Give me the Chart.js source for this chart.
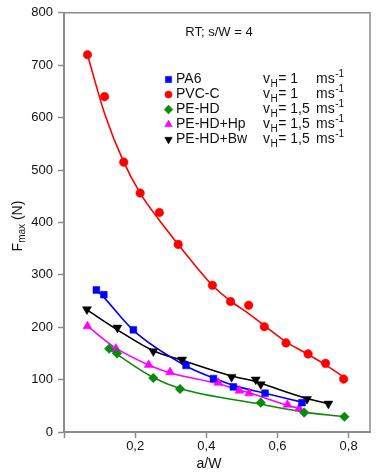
<!DOCTYPE html>
<html><head><meta charset="utf-8">
<script src="https://cdn.jsdelivr.net/npm/chart.js@4.4.1/dist/chart.umd.min.js"></script>
<style>html,body{margin:0;padding:0;background:#fff;}#wrap{width:380px;height:475px;}</style>
</head><body><div id="wrap"><canvas id="c" width="380" height="475"></canvas></div>
<script>
// ---- data ----
const seriesNames = ['PA6', 'PVC-C', 'PE-HD', 'PE-HD+Hp', 'PE-HD+Bw'];
const speedValues = ['1', '1', '1,5', '1,5', '1,5'];
const chartTitle = 'RT; s/W = 4';
const xTickValues = [0, 0.2, 0.4, 0.6, 0.8];
const xTickLabels = ['', '0,2', '0,4', '0,6', '0,8'];
const yTickValues = [0, 100, 200, 300, 400, 500, 600, 700, 800];
const yTickLabels = ['0', '100', '200', '300', '400', '500', '600', '700', '800'];

const pa6X = [0.091, 0.112, 0.195, 0.343, 0.420, 0.476, 0.565, 0.669];
const pa6Y = [271, 262, 195, 127, 102, 86, 74, 56];
const pa6FitX = [0.091, 0.112, 0.195, 0.343, 0.420, 0.476, 0.565, 0.669];
const pa6FitY = [271, 257, 194, 126, 103, 89, 74, 57];

const pvcX = [0.066, 0.114, 0.168, 0.214, 0.268, 0.321, 0.417, 0.468, 0.519, 0.563, 0.624, 0.686, 0.735, 0.786];
const pvcY = [720, 640, 515, 456, 419, 358, 280, 249, 242, 201, 170, 149, 131, 101];
const pvcFitX = [0.066, 0.114, 0.168, 0.214, 0.268, 0.321, 0.417, 0.468, 0.519, 0.563, 0.624, 0.686, 0.735, 0.786];
const pvcFitY = [720, 608, 515, 456, 404, 358, 280, 250, 226, 203, 172, 148, 128, 105];

const pehdX = [0.127, 0.149, 0.251, 0.326, 0.553, 0.675, 0.788];
const pehdY = [159, 150, 103, 82, 56, 37, 29];
const pehdFitX = [0.127, 0.149, 0.251, 0.326, 0.553, 0.675, 0.788];
const pehdFitY = [158, 148, 104, 83, 53, 38, 29];

const hpX = [0.066, 0.146, 0.238, 0.298, 0.434, 0.493, 0.520, 0.628, 0.661];
const hpY = [202, 159, 128, 114, 94, 79, 74, 52, 45];
const hpFitX = [0.066, 0.146, 0.238, 0.298, 0.434, 0.493, 0.520, 0.628, 0.661];
const hpFitY = [202, 160, 128, 113, 92, 80, 75, 51, 45];

const bwX = [0.0645, 0.150, 0.251, 0.332, 0.471, 0.539, 0.553, 0.683, 0.743];
const bwY = [234, 199, 154, 138, 105, 100, 91, 63, 54];
const bwFitX = [0.0645, 0.150, 0.251, 0.332, 0.471, 0.539, 0.553, 0.683, 0.743];
const bwFitY = [233, 195, 155, 137, 107, 96, 93, 64, 54];

// ---- styles ----
const FONT = 'Liberation Sans, Arial, Helvetica, sans-serif';
const AXIS = '#8c8c8c';
const styles = [
  {color: '#0000ff', style: 'rect', radius: 4.8, rotation: 0},
  {color: '#ff0000', style: 'circle', radius: 4.3, rotation: 0},
  {color: '#0a8a0a', style: 'rectRot', radius: 4.8, rotation: 0},
  {color: '#ff00ff', style: 'triangle', radius: 5.2, rotation: 0},
  {color: '#000000', style: 'triangle', radius: 5.2, rotation: 180}
];
const pointSets = [[pa6X, pa6Y], [pvcX, pvcY], [pehdX, pehdY], [hpX, hpY], [bwX, bwY]];
const fitSets = [[pa6FitX, pa6FitY], [pvcFitX, pvcFitY], [pehdFitX, pehdFitY], [hpFitX, hpFitY], [bwFitX, bwFitY]];
const toXY = (xs, ys) => xs.map((x, i) => ({x: x, y: ys[i]}));

const datasets = [];
pointSets.forEach((p, i) => {
  const s = styles[i];
  datasets.push({
    label: seriesNames[i], data: toXY(p[0], p[1]), showLine: false,
    pointStyle: s.style, rotation: s.rotation, pointRadius: s.radius, pointHoverRadius: s.radius,
    backgroundColor: s.color, borderColor: s.color, pointBorderWidth: 0.5
  });
});
fitSets.forEach((p, i) => {
  const s = styles[i];
  datasets.push({
    label: seriesNames[i] + ' fit', data: toXY(p[0], p[1]), showLine: true,
    pointRadius: 0, borderColor: s.color, borderWidth: 1.6, fill: false,
    cubicInterpolationMode: 'monotone'
  });
});

function marker(ctx, style, x, y, r, rot, color) {
  ctx.save();
  ctx.fillStyle = color; ctx.strokeStyle = color; ctx.lineWidth = 0.5;
  ctx.beginPath();
  if (style === 'circle') { ctx.arc(x, y, r, 0, Math.PI * 2); }
  else if (style === 'rect') { const s = r * Math.SQRT1_2; ctx.rect(x - s, y - s, 2 * s, 2 * s); }
  else if (style === 'rectRot') { ctx.moveTo(x, y - r); ctx.lineTo(x + r, y); ctx.lineTo(x, y + r); ctx.lineTo(x - r, y); ctx.closePath(); }
  else if (style === 'triangle') {
    let a = rot * Math.PI / 180;
    for (let k = 0; k < 3; k++) {
      const px = x + Math.sin(a) * r, py = y - Math.cos(a) * r;
      if (k === 0) ctx.moveTo(px, py); else ctx.lineTo(px, py);
      a += 2 * Math.PI / 3;
    }
    ctx.closePath();
  }
  ctx.fill(); ctx.stroke();
  ctx.restore();
}

const decor = {
  id: 'decor',
  afterDraw(chart) {
    const ctx = chart.ctx, a = chart.chartArea;
    ctx.save();
    // top and right frame lines
    ctx.strokeStyle = AXIS; ctx.lineWidth = 1.5;
    ctx.beginPath();
    ctx.moveTo(a.left, a.top); ctx.lineTo(a.right, a.top); ctx.lineTo(a.right, a.bottom);
    ctx.stroke();
    // title inside plot
    ctx.fillStyle = '#111';
    ctx.font = '13px ' + FONT;
    ctx.textAlign = 'center'; ctx.textBaseline = 'middle';
    ctx.fillText(chartTitle, 219, 32);
    // legend
    ctx.textAlign = 'left';
    const y0 = 79.5, dy = 15;
    seriesNames.forEach((n, i) => {
      const y = y0 + dy * i, s = styles[i];
      const r = s.style === 'circle' ? 3.6 : (s.style === 'rect' ? 4.4 : 4.4);
      marker(ctx, s.style, 168.5, y, r, s.rotation, s.color);
      ctx.fillStyle = '#111';
      ctx.font = '14px ' + FONT;
      ctx.fillText(n, 176, y);
      ctx.fillText('v', 263, y);
      const vw = ctx.measureText('v').width;
      ctx.font = '10px ' + FONT;
      ctx.fillText('H', 263 + vw + 0.5, y + 4.5);
      const hw = ctx.measureText('H').width;
      ctx.font = '14px ' + FONT;
      ctx.fillText('= ' + speedValues[i], 263 + vw + hw + 1, y);
      ctx.fillText('ms', 316, y);
      const mw = ctx.measureText('ms').width;
      ctx.font = '10px ' + FONT;
      ctx.fillText('-1', 316 + mw + 0.5, y - 5);
    });
    // y axis title, rotated
    ctx.save();
    ctx.translate(18, 226);
    ctx.rotate(-Math.PI / 2);
    ctx.font = '14px ' + FONT;
    const fW = ctx.measureText('F').width;
    ctx.font = '10px ' + FONT;
    const subW = ctx.measureText('max').width;
    ctx.font = '14px ' + FONT;
    const nW = ctx.measureText(' (N)').width;
    const total = fW + subW + nW;
    let x = -total / 2;
    ctx.textAlign = 'left'; ctx.textBaseline = 'middle'; ctx.fillStyle = '#111';
    ctx.fillText('F', x, 0); x += fW;
    ctx.font = '10px ' + FONT; ctx.fillText('max', x, 4.5); x += subW;
    ctx.font = '14px ' + FONT; ctx.fillText(' (N)', x, 0);
    ctx.restore();
    // x axis title
    ctx.font = '14px ' + FONT; ctx.textAlign = 'center'; ctx.textBaseline = 'middle';
    ctx.fillText('a/W', 209, 464);
    ctx.restore();
  }
};

new Chart(document.getElementById('c'), {
  type: 'scatter',
  data: {datasets: datasets},
  options: {
    responsive: false, animation: false,
    layout: {padding: {left: 0, right: 10, top: 9, bottom: 0}},
    plugins: {legend: {display: false}, tooltip: {enabled: false}, title: {display: false}},
    scales: {
      x: {
        type: 'linear', min: 0, max: 0.86,
        border: {display: true, color: AXIS, width: 2},
        grid: {display: true, drawOnChartArea: false, drawTicks: true, tickLength: 6, tickColor: AXIS, tickWidth: 1.5},
        afterBuildTicks: s => { s.ticks = xTickValues.map(v => ({value: v})); },
        afterFit: s => { s.height = 43; },
        ticks: {
          autoSkip: false, maxRotation: 0, padding: 1, color: '#111',
          font: {family: FONT, size: 13},
          callback: (v) => { const i = xTickValues.indexOf(v); return i >= 0 ? xTickLabels[i] : ''; }
        }
      },
      y: {
        type: 'linear', min: 0, max: 800,
        border: {display: true, color: AXIS, width: 2},
        grid: {display: true, drawOnChartArea: false, drawTicks: true, tickLength: 6, tickColor: AXIS, tickWidth: 1.5},
        afterBuildTicks: s => { s.ticks = yTickValues.map(v => ({value: v})); },
        afterFit: s => { s.width = 64; },
        ticks: {
          autoSkip: false, padding: 5, color: '#111',
          font: {family: FONT, size: 13},
          callback: (v) => { const i = yTickValues.indexOf(v); return i >= 0 ? yTickLabels[i] : ''; }
        }
      }
    }
  },
  plugins: [decor]
});
</script></body></html>
